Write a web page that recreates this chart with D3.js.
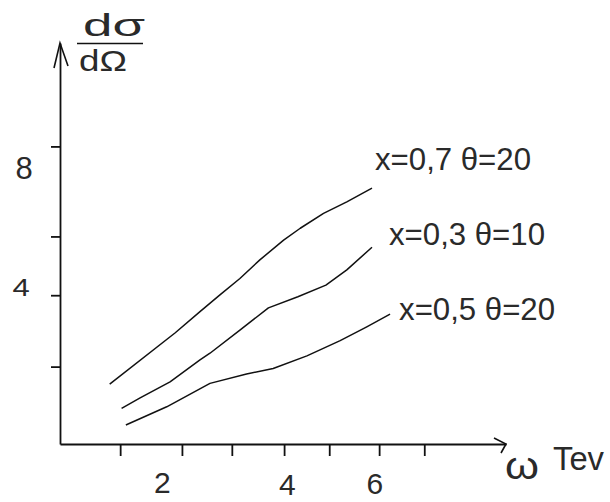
<!DOCTYPE html>
<html><head><meta charset="utf-8">
<script src="https://cdn.jsdelivr.net/npm/d3@7"></script>
<style>body{margin:0;background:#fff}svg{display:block}</style>
</head><body><svg id="c" width="610" height="502"></svg>
<script>
// ---- data ----
const seriesNames = ["x=0,7 θ=20", "x=0,3 θ=10", "x=0,5 θ=20"];
const omega07 = [0.33, 1.71, 2.23, 2.65, 3.07, 3.49, 3.99, 4.34, 4.83, 5.32, 5.85];
const sigma07 = [1.61, 2.99, 3.56, 4.01, 4.45, 4.95, 5.48, 5.80, 6.20, 6.51, 6.88];
const omega03 = [0.58, 0.97, 1.60, 2.23, 2.44, 3.07, 3.67, 4.29, 4.88, 5.32, 5.85];
const sigma03 = [0.96, 1.24, 1.67, 2.26, 2.44, 3.06, 3.66, 3.96, 4.27, 4.68, 5.29];
const omega05 = [0.67, 1.53, 2.44, 3.21, 3.77, 4.48, 5.18, 5.74, 6.23];
const sigma05 = [0.51, 1.00, 1.63, 1.88, 2.03, 2.37, 2.78, 3.15, 3.49];
const xTicks = [0.55, 1.85, 2.9, 4.0, 4.95, 6.0, 6.95];
const xTickLabels = ["2", "4", "6"];
const xTickLabelAt = [1.44, 4.07, 5.91];
const yTicks = [2.08, 4, 5.58, 8];
const yTickLabels = ["8", "4"];
const yTickLabelAt = [8, 4];

// ---- layout / style ----
const svg = d3.select("#c");
const FONT = "'Liberation Sans', Arial, sans-serif";
const INK = "#111";
const TXT = "#2a2a2a";
const x = d3.scaleLinear().domain([-0.716, 8.67]).range([60, 506]);
const y = d3.scaleLinear().domain([0, 10.78]).range([444, 43]);

// axes
const gx = svg.append("g").attr("transform", `translate(0,${y(0)})`)
  .call(d3.axisBottom(x).tickValues(xTicks).tickSize(12).tickSizeOuter(0).tickFormat(""));
const gy = svg.append("g").attr("transform", `translate(${x.range()[0]},0)`)
  .call(d3.axisLeft(y).tickValues(yTicks).tickSize(9).tickSizeOuter(0).tickFormat(""));
[gx, gy].forEach(g => {
  g.select(".domain").attr("stroke", INK).attr("stroke-width", 1.8);
  g.selectAll(".tick line").attr("stroke", INK).attr("stroke-width", 1.8);
});

// arrowheads
const xEnd = x.range()[1], yTop = y.range()[1], x0 = x.range()[0], y0 = y(0);
svg.append("path")
  .attr("d", `M${xEnd-12},${y0-6} L${xEnd},${y0} L${xEnd-5},${y0+9}`)
  .attr("fill", "none").attr("stroke", INK).attr("stroke-width", 1.6);
svg.append("path")
  .attr("d", `M${x0-6},${yTop+25} L${x0},${yTop} L${x0+8},${yTop+23}`)
  .attr("fill", "none").attr("stroke", INK).attr("stroke-width", 1.6);

// tick labels
const xLabBase = [493, 495, 494];
svg.selectAll(".xl").data(xTickLabels).join("text")
  .attr("x", (d, i) => x(xTickLabelAt[i]))
  .attr("y", (d, i) => xLabBase[i])
  .attr("text-anchor", "middle")
  .attr("font-family", FONT).attr("font-size", 30).attr("fill", TXT)
  .text(d => d);

const yLabStyle = [{dx: 24, dy: 33, sy: 1}, {dx: 21, dy: 1, sy: 0.75}];
svg.selectAll(".yl").data(yTickLabels).join("text")
  .attr("transform", (d, i) => `translate(${yLabStyle[i].dx},${y(yTickLabelAt[i]) + yLabStyle[i].dy}) scale(1,${yLabStyle[i].sy})`)
  .attr("text-anchor", "middle")
  .attr("font-family", FONT).attr("font-size", 31).attr("fill", TXT)
  .text(d => d);

// series lines
const series = [
  {name: seriesNames[0], w: omega07, s: sigma07, off: [3, -18.5]},
  {name: seriesNames[1], w: omega03, s: sigma03, off: [17, -2]},
  {name: seriesNames[2], w: omega05, s: sigma05, off: [9, 6]}
];
const line = d3.line().x(d => x(d[0])).y(d => y(d[1])).curve(d3.curveLinear);
series.forEach(sr => {
  const pts = sr.w.map((w, i) => [w, sr.s[i]]);
  svg.append("path").datum(pts).attr("d", line)
    .attr("fill", "none").attr("stroke", INK).attr("stroke-width", 1.5)
    .attr("stroke-linejoin", "round");
  const last = pts[pts.length - 1];
  svg.append("text")
    .attr("x", x(last[0]) + sr.off[0]).attr("y", y(last[1]) + sr.off[1])
    .attr("font-family", FONT).attr("font-size", 31).attr("fill", TXT)
    .attr("textLength", 156).attr("lengthAdjust", "spacingAndGlyphs")
    .text(sr.name);
});

// y axis title: dσ / dΩ
svg.append("text").attr("x", 83).attr("y", 36)
  .attr("font-family", FONT).attr("font-size", 32).attr("fill", TXT)
  .attr("textLength", 62).attr("lengthAdjust", "spacingAndGlyphs").text("dσ");
svg.append("line").attr("x1", 77).attr("x2", 143).attr("y1", 43.5).attr("y2", 43.5)
  .attr("stroke", INK).attr("stroke-width", 1.6);
svg.append("text").attr("x", 79).attr("y", 71)
  .attr("font-family", FONT).attr("font-size", 30).attr("fill", TXT)
  .attr("textLength", 48).attr("lengthAdjust", "spacingAndGlyphs").text("dΩ");

// x axis title: ω Tev
svg.append("text").attr("x", 505).attr("y", 479)
  .attr("font-family", FONT).attr("font-size", 38).attr("fill", TXT)
  .attr("textLength", 34).attr("lengthAdjust", "spacingAndGlyphs").text("ω");
svg.append("text").attr("x", 553).attr("y", 470)
  .attr("font-family", FONT).attr("font-size", 34).attr("fill", TXT)
  .attr("textLength", 51).attr("lengthAdjust", "spacingAndGlyphs").text("Tev");
</script></body></html>
